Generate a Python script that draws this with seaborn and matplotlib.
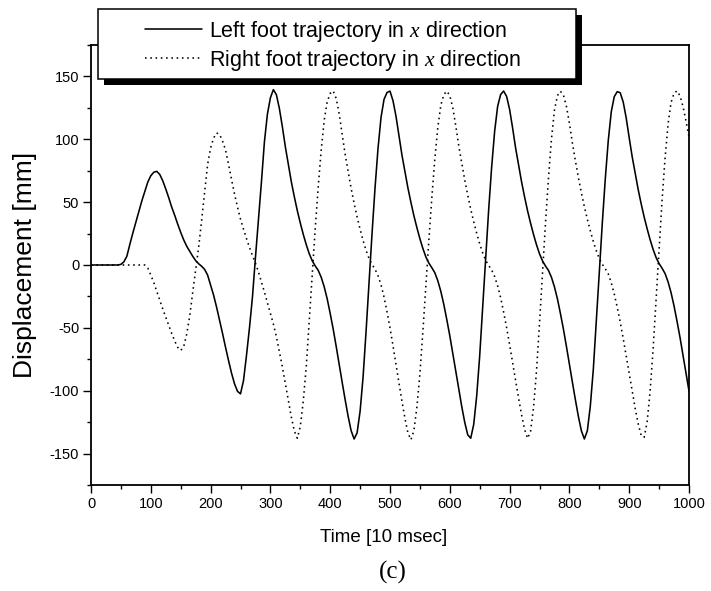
import numpy as np
import pandas as pd
import matplotlib
matplotlib.use("Agg")
import matplotlib.pyplot as plt
import seaborn as sns
from matplotlib.patches import Rectangle
from matplotlib.ticker import MultipleLocator

# ---------------- data ----------------
time_10ms = np.arange(0, 1001, 5)

left_foot_x = [
    0, 0, 0, 0, 0, 0, 0, 0, 0, 0,
    0.5, 2.5, 7, 16.5, 25.5, 34, 42.5, 51, 58.5, 66,
    71, 73.8, 74.5, 72, 67, 60.5, 53.5, 46, 39.5, 32.5,
    26, 20, 15, 11, 7, 3.5, 1, -1, -3.5, -8,
    -16, -24, -33.5, -44, -54.5, -65.5, -76, -86, -94.5, -100.5,
    -102.5, -92, -72, -50, -25.5, 6, 36, 66, 98, 120,
    133, 139.5, 135.5, 124.5, 110, 94, 80, 66.2, 54.3, 43.2,
    33.4, 24.3, 16.1, 8.9, 3.3, -0.8, -4.3, -9.8, -17.4, -27,
    -38.6, -51, -64.7, -79.1, -93.2, -107.2, -120.4, -131.8, -138.4, -133.5,
    -116.3, -89, -52.7, -13.7, 25.3, 61.5, 93, 117.4, 131.7, 137.2,
    138.3, 130.7, 118.4, 102.8, 87.4, 74.3, 61.2, 49.8, 39.1, 29.7,
    20.9, 13.1, 6.4, 1.5, -2.2, -6.2, -12.6, -21, -31.4, -43.5,
    -56.3, -70.4, -84.8, -98.8, -112.6, -125.2, -135.1, -137.8, -126.8, -104,
    -72.2, -33.2, 5.8, 44, 78, 106.4, 126.2, 135.6, 138.4, 134.1,
    123.8, 109.1, 93.2, 79.6, 66.2, 54.3, 43.2, 33.4, 24.3, 16.1,
    8.9, 3.3, -0.8, -4.3, -9.8, -17.4, -27, -38.6, -51, -64.7,
    -79.1, -93.2, -107.2, -120.4, -131.8, -138.4, -131.9, -112.1, -83, -44.9,
    -5.9, 33.1, 68.5, 99, 121.8, 133.9, 137.9, 137, 129.6, 116.9,
    101.2, 86.1, 73, 60.1, 48.7, 38.2, 28.8, 20.1, 12.4, 5.9,
    1.1, -2.6, -6.8, -13.4, -22, -32.6, -44.8, -57.7, -71.9, -86.2,
    -100.2,
]

right_foot_x = [
    0, 0, 0, 0, 0, 0, 0, 0, 0, 0,
    0, 0, 0, 0, 0, 0, 0, 0, 0, -2.5,
    -8, -14, -21, -28, -35, -41.5, -48, -54.5, -60.5, -65.5,
    -68, -65, -55, -41, -22, -4, 14, 35.5, 58, 80,
    93, 101, 105, 104, 98.5, 91.5, 80, 68, 56.5, 46,
    36.5, 28.5, 21, 14, 7.5, 1.5, -5.5, -13.5, -21.5, -30,
    -38.5, -47, -57, -69, -81, -94.5, -108, -121, -132, -137.8,
    -128.5, -108.2, -80.6, -44.1, -7.5, 29.2, 62.2, 91.8, 115.2, 129.9,
    136.5, 138.5, 132.5, 120.3, 104.1, 87.9, 74.3, 61, 49.1, 38.2,
    28.4, 19.5, 11.6, 5.1, 0.4, -3.4, -8.5, -15.8, -25.4, -37.2,
    -50, -64.1, -79.1, -93.8, -108.3, -122, -133.6, -139, -131.7, -112.9,
    -86.6, -52.7, -16, 19.8, 53.8, 84.6, 109.5, 127.1, 135.6, 138.3,
    134.7, 125, 110.7, 94.8, 80.9, 67.6, 55.5, 44.3, 34.4, 25.2,
    16.9, 9.6, 3.8, -0.4, -4, -9.2, -16.6, -26, -37.4, -49.8,
    -63.3, -77.7, -91.8, -105.8, -119.1, -130.7, -137.9, -132.5, -113.4, -84.2,
    -46.5, -6.7, 33.1, 69.2, 100.2, 123.1, 134.8, 138.2, 135.2, 126.3,
    112.8, 97, 83, 69.7, 57.5, 46.5, 36.3, 27.2, 18.7, 11.3,
    5.1, 0.6, -3, -7.1, -14.2, -23, -33.6, -45.5, -58.5, -72.4,
    -86.5, -100.5, -114, -126.3, -135.5, -137.1, -124.7, -100.4, -66.7, -27,
    13.6, 51.7, 85.2, 112.1, 129.3, 136.6, 138.5, 134.5, 126, 114.5,
    101.8,
]

series_labels = [
    "Left foot trajectory in $x$ direction",
    "Right foot trajectory in $x$ direction",
]
x_label = "Time [10 msec]"
y_label = "Displacement [mm]"
panel_label = "(c)"

# ---------------- style ----------------
sns.set_theme(style="white")
plt.rcParams["font.family"] = ["Liberation Sans", "DejaVu Sans"]
plt.rcParams["mathtext.fontset"] = "custom"
plt.rcParams["mathtext.it"] = "Liberation Serif:italic"
plt.rcParams["mathtext.rm"] = "Liberation Sans"
plt.rcParams["axes.unicode_minus"] = False

W, H = 711, 591
fig = plt.figure(figsize=(W / 100, H / 100), dpi=100)
fig.patch.set_facecolor("white")
ax = fig.add_axes([91 / W, 1 - 485 / H, 598 / W, 440 / H])
ax.set_facecolor("white")

df = pd.DataFrame({"t": time_10ms, "left": left_foot_x, "right": right_foot_x})

sns.lineplot(data=df, x="t", y="left", ax=ax, color="black", linewidth=1.15,
             estimator=None, legend=False, label=series_labels[0])
sns.lineplot(data=df, x="t", y="right", ax=ax, color="black", linewidth=1.15,
             linestyle=(0, (1.0, 2.3)), estimator=None, legend=False,
             label=series_labels[1])
if ax.get_legend() is not None:
    ax.get_legend().remove()

ax.set_xlim(0, 1000)
ax.set_ylim(-175, 175)
ax.xaxis.set_major_locator(MultipleLocator(100))
ax.xaxis.set_minor_locator(MultipleLocator(50))
ax.yaxis.set_major_locator(MultipleLocator(50))
ax.yaxis.set_minor_locator(MultipleLocator(25))

ax.tick_params(which="both", direction="out", top=False, right=False,
               left=True, bottom=True, color="black", width=1.0)
ax.tick_params(which="major", length=5.5, labelsize=10.5, pad=3,
               labelcolor="black")
ax.tick_params(which="minor", length=3)

for sp in ax.spines.values():
    sp.set_visible(True)
    sp.set_color("black")
    sp.set_linewidth(1.3)

ax.set_xlabel(x_label, fontsize=13.5, color="black")
ax.set_ylabel(y_label, fontsize=19, color="black")
ax.xaxis.set_label_coords(0.49, -0.10)
ax.yaxis.set_label_coords(-0.0895, 0.5)

fig.text(393 / W, 1 - 572 / H, panel_label, ha="center", va="center",
         family="Liberation Serif", fontsize=18, color="black")

# legend frame with hard black shadow
shadow = Rectangle((104 / W, (H - 85) / H), 478 / W, 70 / H,
                   transform=fig.transFigure, facecolor="black",
                   edgecolor="none", zorder=3)
frame = Rectangle((98 / W, (H - 79) / H), 478 / W, 70 / H,
                  transform=fig.transFigure, facecolor="white",
                  edgecolor="black", linewidth=1.1, zorder=4)
fig.add_artist(shadow)
fig.add_artist(frame)

handles = ax.get_lines()[:2]
leg = fig.legend(handles, series_labels, loc="upper left",
                 bbox_to_anchor=(145 / W, 1 - 18.5 / H),
                 bbox_transform=fig.transFigure, frameon=False,
                 borderpad=0, borderaxespad=0, handlelength=2.65,
                 handletextpad=0.3, labelspacing=0.2, fontsize=15.5)
leg.set_zorder(5)
for t in leg.get_texts():
    t.set_color("black")

fig.savefig("out.png", dpi=100, facecolor="white")
